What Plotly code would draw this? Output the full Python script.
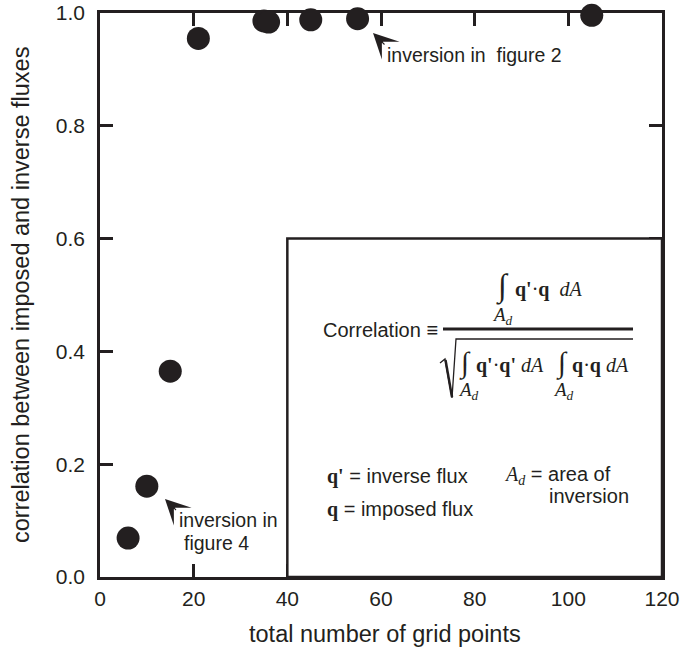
import plotly.graph_objects as go

# ---- data ----
grid_points = [6, 10, 15, 21, 35, 36, 45, 55, 105]
correlation = [0.069, 0.161, 0.365, 0.955, 0.986, 0.984, 0.988, 0.990, 0.996]
x_tick_values = [0, 20, 40, 60, 80, 100, 120]
y_tick_values = [0.0, 0.2, 0.4, 0.6, 0.8, 1.0]
x_title = "total number of grid points"
y_title = "correlation between imposed and inverse fluxes"

# ---- layout constants ----
W, H = 685, 648
ML, MR, MT, MB = 100, 23, 13, 71
X_RANGE = [0, 120]
Y_RANGE = [0, 1.0]
INK = "#231f20"
SANS = "Liberation Sans, Arial, Helvetica, sans-serif"
SERIF = "Liberation Serif, Times New Roman, serif"
SERIF2 = "Liberation Serif, DejaVu Serif, serif"

pw = W - ML - MR
ph = H - MT - MB


def X(px):
    return X_RANGE[0] + (px - ML) / pw * (X_RANGE[1] - X_RANGE[0])


def Y(py):
    return Y_RANGE[0] + (H - MB - py) / ph * (Y_RANGE[1] - Y_RANGE[0])


def txt(px, py, s, size=20, xanchor="left", family=SANS):
    return dict(x=X(px), y=Y(py), xref="x", yref="y", text=s, showarrow=False,
                xanchor=xanchor, yanchor="middle", borderpad=0,
                font=dict(family=family, size=size, color=INK))


def txt_paper(px, py, s, size, angle=0):
    return dict(x=(px - ML) / pw, y=(H - MB - py) / ph, xref="paper", yref="paper",
                text=s, showarrow=False, xanchor="center", yanchor="middle",
                textangle=angle, borderpad=0,
                font=dict(family=SANS, size=size, color=INK))


def serif(s):
    return "<span style=\"font-family:'Liberation Serif', 'Times New Roman', serif\">" + s + "</span>"


def arrow(px, py, dx, dy):
    return dict(x=X(px), y=Y(py), xref="x", yref="y", text="", showarrow=True,
                ax=dx, ay=dy, arrowhead=3, arrowsize=3.8, arrowwidth=1.1,
                arrowcolor=INK, standoff=0)


fig = go.Figure()
fig.add_trace(go.Scatter(
    x=grid_points, y=correlation, mode="markers",
    marker=dict(size=23, color=INK, line=dict(width=0)),
    cliponaxis=False, hoverinfo="skip", showlegend=False,
))

A_d = "<i>A</i><sub><i>d</i></sub>"

annotations = [
    # axis titles
    txt_paper(385, 634, x_title, 23.5),
    txt_paper(21, 295, y_title, 23.5, angle=-90),
    # callouts
    txt(386, 55, "inversion in  figure 2", 19.5),
    arrow(373, 33, 13, 13),
    txt(178, 520, "inversion in", 19.5),
    txt(183, 543, "figure 4", 19.5),
    arrow(165, 499, 12.5, 12.5),
    # formula
    txt(322, 330, "Correlation \u2261", 20),
    txt(502, 286, "\u222b", 32, "center", SERIF2),
    txt(514, 289, "<b>q'</b>\u00b7<b>q</b>  <i>dA</i>", 20, "left", SERIF),
    txt(502, 316, A_d, 19, "center", SERIF),
    txt(465, 363, "\u222b", 29, "center", SERIF2),
    txt(475, 365, "<b>q'</b>\u00b7<b>q'</b> <i>dA</i>", 20, "left", SERIF),
    txt(468, 391, A_d, 19, "center", SERIF),
    txt(562, 363, "\u222b", 29, "center", SERIF2),
    txt(571, 365, "<b>q</b>\u00b7<b>q</b> <i>dA</i>", 20, "left", SERIF),
    txt(563, 391, A_d, 19, "center", SERIF),
    # legend of symbols
    txt(326, 476, serif("<b>q'</b>") + " = inverse flux", 20),
    txt(326, 509, serif("<b>q</b>") + " = imposed flux", 20),
    txt(503, 475, serif(A_d) + " = area of", 20),
    txt(548, 496, "inversion", 20),
]

shapes = [
    # inset box
    dict(type="rect", xref="x", yref="y", x0=40, x1=120, y0=0, y1=0.6,
         line=dict(color=INK, width=2.5), fillcolor="white", layer="above"),
    # fraction bar
    dict(type="line", xref="x", yref="y", x0=X(443), x1=X(633), y0=Y(329), y1=Y(329),
         line=dict(color=INK, width=3), layer="above"),
    # radical sign + overline
    dict(type="path", xref="x", yref="y",
         path=(f"M{X(440)},{Y(363)} L{X(445)},{Y(359)} L{X(452)},{Y(398)} "
               f"L{X(456)},{Y(339)} L{X(633)},{Y(339)}"),
         line=dict(color=INK, width=1.3), layer="above"),
    dict(type="line", xref="x", yref="y", x0=X(445.5), x1=X(452), y0=Y(360), y1=Y(397),
         line=dict(color=INK, width=2.5), layer="above"),
]

axis_common = dict(
    showline=True, linewidth=2.5, linecolor=INK, mirror="ticks",
    ticks="inside", ticklen=13, tickwidth=2.5, tickcolor=INK,
    showgrid=False, zeroline=False, layer="below traces", automargin=False,
    tickfont=dict(family=SANS, size=21, color=INK),
)

fig.update_layout(
    width=W, height=H,
    margin=dict(l=ML, r=MR, t=MT, b=MB),
    paper_bgcolor="white", plot_bgcolor="white",
    font=dict(family=SANS, color=INK),
    xaxis=dict(range=X_RANGE, tickvals=x_tick_values, ticklabelstandoff=1, **axis_common),
    yaxis=dict(range=Y_RANGE, tickvals=y_tick_values, tickformat=".1f", ticklabelstandoff=8,
               **axis_common),
    annotations=annotations,
    shapes=shapes,
)

fig.write_html("out.html")
